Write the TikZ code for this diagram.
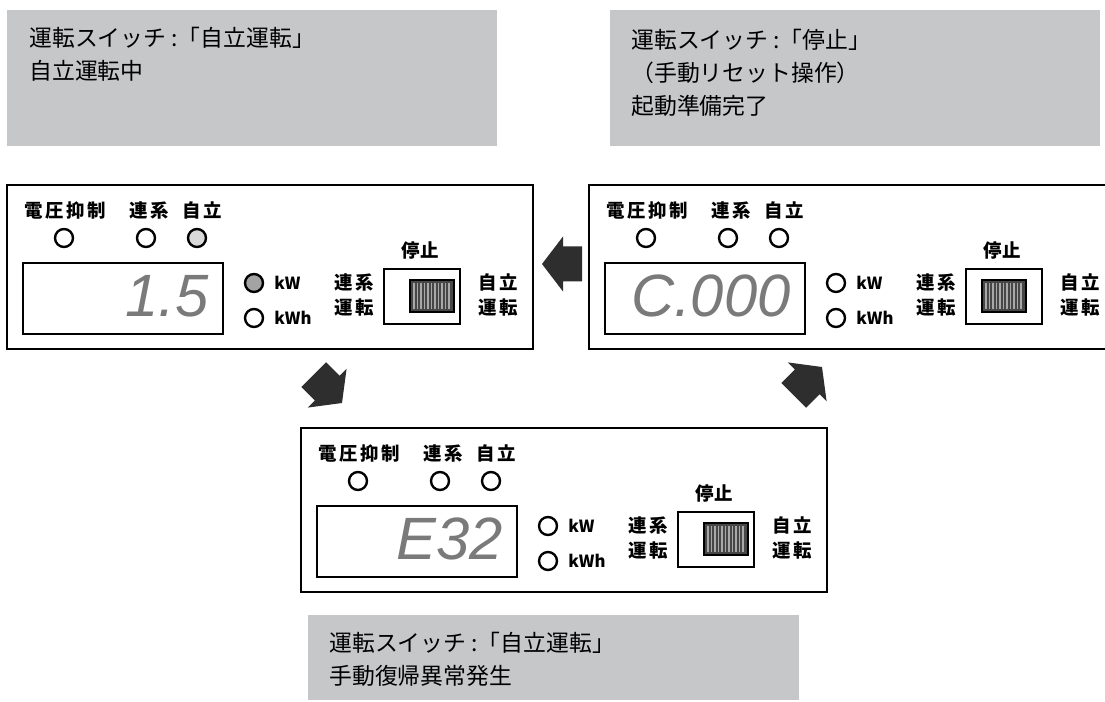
\documentclass[tikz,border=0pt]{standalone}
\usepackage{fontspec}
\usepackage{tikz}
\usetikzlibrary{positioning}
\newfontfamily\jpfont{Noto Sans CJK JP}
\newfontfamily\panelfont[LetterSpace=14]{Noto Sans CJK JP}
\newfontfamily\segfont{Liberation Sans}
\definecolor{notebg}{HTML}{C6C7C9}
\definecolor{seggray}{HTML}{7A7A7A}
\definecolor{lampon}{HTML}{D9D9D9}
\definecolor{kwon}{HTML}{A3A3A3}
\definecolor{arrowfill}{HTML}{2E2E2E}
\definecolor{knobfill}{HTML}{474747}
\definecolor{knobline}{HTML}{A8A8A8}

\tikzset{
  frame/.style={draw=black,line width=1.4pt},
  lamp/.style={draw=black,line width=1.35pt},
  switchbox/.style={draw=black,line width=1.6pt},
  labeltext/.style={font=\panelfont\bfseries\fontsize{10.5pt}{14pt}\selectfont,inner sep=0pt,align=center},
  stoptext/.style={font=\jpfont\bfseries\fontsize{10.5pt}{14pt}\selectfont,inner sep=0pt},
  unittext/.style={font=\jpfont\bfseries\fontsize{9.5pt}{11pt}\selectfont,inner sep=0pt,anchor=west},
  segtext/.style={font=\segfont\itshape\fontsize{34pt}{34pt}\selectfont,text=seggray,inner sep=0pt,anchor=east},
  notetext/.style={font=\jpfont\fontsize{13pt}{18.8pt}\selectfont,inner sep=0pt,anchor=north west,align=left},
  pics/blockarrow/.style={code={
    \fill[arrowfill] (0,0) -- (-21,-27.5) -- (-21,-17.5) -- (-40,-17.5)
      -- (-40,17.5) -- (-21,17.5) -- (-21,27.5) -- cycle;
  }},
  pics/ctrlpanel/.style args={#1/#2/#3/#4}{code={
    \draw[frame] (0,0) rectangle (526,164);
    % lamps
    \node[labeltext] (-suplabel) at (58,25) {電圧抑制};
    \node[labeltext] (-gridlabel) at (142,25) {連系};
    \node[labeltext] (-selflabel) at (195,25) {自立};
    \draw[lamp] (57,53) circle[radius=9];
    \draw[lamp] (139,53) circle[radius=9];
    \draw[lamp,fill=#3] (190,53) circle[radius=9];
    % display
    \draw[frame] (16,78) rectangle (216,149);
    \node[segtext] (-digits) at (202,111) {#1};
    \draw[lamp,fill=#4] (247,98) circle[radius=9];
    \draw[lamp] (247,133) circle[radius=9];
    \node[unittext] (-kw) at (267,98) {kW};
    \node[unittext] (-kwh) at (267,133) {kWh};
    % mode switch
    \node[labeltext] (-gridmode) at (347,110) {連系\\運転};
    \node[stoptext] (-stoplabel) at (413,65) {停止};
    \node[labeltext] (-selfmode) at (491,110) {自立\\運転};
    \draw[switchbox] (377,84) rectangle (453,139);
    \fill[knobfill] (#2,95) rectangle ++(44,32);
    \foreach \s in {4,7.5,...,40}
      \draw[knobline,line width=0.6pt] (#2+\s,98) -- (#2+\s,124);
    \draw[black,line width=0.8pt] (#2,95) rectangle ++(44,32);
  }}
}

\begin{document}
\begin{tikzpicture}[x=0.02cm,y=-0.02cm]
  \useasboundingbox (0,0) rectangle (1105,702);
  \clip (0,0) rectangle (1105,702);

  % Notes
  \fill[notebg] (7,10) rectangle (497,146);
  \node[notetext] (runnote) at (29,27) {運転スイッチ :「自立運転」\\自立運転中};

  \fill[notebg] (610,10) rectangle (1100,146);
  \node[notetext] (resetnote) at (631,29) {運転スイッチ :「停止」\\（手動リセット操作）\\起動準備完了};

  \fill[notebg] (308,615) rectangle (799,700);
  \node[notetext] (faultnote) at (329,632) {運転スイッチ :「自立運転」\\手動復帰異常発生};

  % Panels
  \pic (runpanel) at (7,185) {ctrlpanel={1.5/403/lampon/kwon}};
  \pic (resetpanel) at (589,185) {ctrlpanel={C.000/393/white/white}};
  \pic (faultpanel) at (301,428) {ctrlpanel={E32/403/white/white}};

  % Arrows
  \pic[rotate=180] (toRun) at (542,264) {blockarrow};
  \pic[rotate=-45] (toFault) at (342,403) {blockarrow};
  \pic[rotate=45] (toReset) at (822,367) {blockarrow};
\end{tikzpicture}
\end{document}
